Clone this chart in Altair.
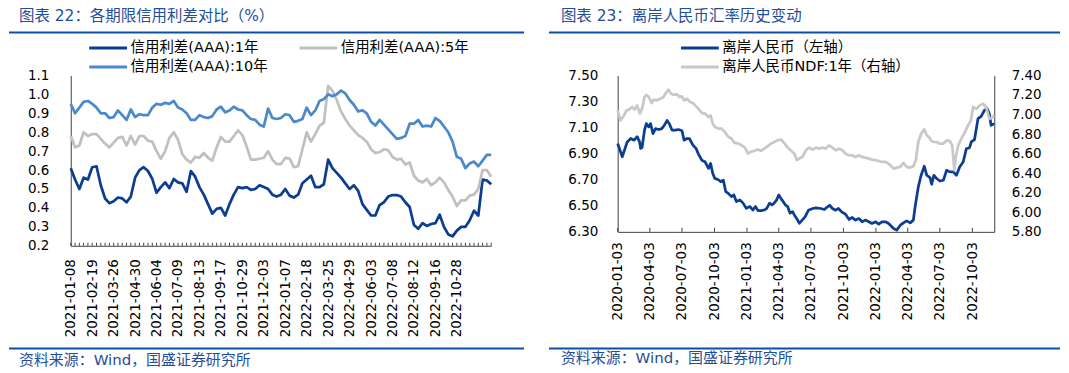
import altair as alt
import pandas as pd

FONT = "DejaVu Sans, Noto Sans CJK SC"
TXT_BLUE = "#1F4E9A"
RULE_BLUE = "#0B4EA2"
AXIS_COL = "#404040"

# ---------------- left panel data ----------------
LEFT_DATES = [
    "2021-01-08", "2021-01-15", "2021-01-22", "2021-01-29", "2021-02-05", "2021-02-19", "2021-02-26",
    "2021-03-05", "2021-03-12", "2021-03-19", "2021-03-26", "2021-04-02", "2021-04-09", "2021-04-16",
    "2021-04-23", "2021-04-30", "2021-05-07", "2021-05-14", "2021-05-21", "2021-05-28", "2021-06-04",
    "2021-06-11", "2021-06-18", "2021-06-25", "2021-07-02", "2021-07-09", "2021-07-16", "2021-07-23",
    "2021-07-30", "2021-08-06", "2021-08-13", "2021-08-20", "2021-08-27", "2021-09-03", "2021-09-10",
    "2021-09-17", "2021-09-24", "2021-10-08", "2021-10-15", "2021-10-22", "2021-10-29", "2021-11-05",
    "2021-11-12", "2021-11-19", "2021-11-26", "2021-12-03", "2021-12-10", "2021-12-17", "2021-12-24",
    "2021-12-31", "2022-01-07", "2022-01-14", "2022-01-21", "2022-01-28", "2022-02-11", "2022-02-18",
    "2022-02-25", "2022-03-04", "2022-03-11", "2022-03-18", "2022-03-25", "2022-04-01", "2022-04-08",
    "2022-04-15", "2022-04-22", "2022-04-29", "2022-05-06", "2022-05-13", "2022-05-20", "2022-05-27",
    "2022-06-03", "2022-06-10", "2022-06-17", "2022-06-24", "2022-07-01", "2022-07-08", "2022-07-15",
    "2022-07-22", "2022-07-29", "2022-08-05", "2022-08-12", "2022-08-19", "2022-08-26", "2022-09-02",
    "2022-09-09", "2022-09-16", "2022-09-23", "2022-09-30", "2022-10-14", "2022-10-21", "2022-10-28",
    "2022-11-04", "2022-11-11", "2022-11-18", "2022-11-25", "2022-12-02", "2022-12-09", "2022-12-16",
    "2022-12-23",
]
SPREAD_1Y = [
    0.61, 0.55, 0.50, 0.56, 0.55, 0.615, 0.62, 0.52, 0.45, 0.425,
    0.435, 0.455, 0.45, 0.43, 0.46, 0.56, 0.60, 0.615, 0.595, 0.553,
    0.48, 0.51, 0.535, 0.505, 0.553, 0.535, 0.53, 0.485, 0.595, 0.565,
    0.51, 0.47, 0.42, 0.37, 0.395, 0.40, 0.36, 0.42, 0.47, 0.51,
    0.505, 0.51, 0.495, 0.50, 0.52, 0.51, 0.50, 0.47, 0.46, 0.47,
    0.50, 0.465, 0.455, 0.47, 0.53, 0.55, 0.57, 0.51, 0.51, 0.525,
    0.655, 0.61, 0.585, 0.56, 0.53, 0.50, 0.52, 0.49, 0.42, 0.39,
    0.36, 0.36, 0.415, 0.43, 0.46, 0.468, 0.468, 0.46, 0.43, 0.405,
    0.31, 0.29, 0.32, 0.305, 0.315, 0.32, 0.364, 0.30, 0.26, 0.25,
    0.28, 0.30, 0.30, 0.335, 0.385, 0.36, 0.55, 0.545, 0.525,
]
SPREAD_5Y = [
    0.78, 0.72, 0.73, 0.80, 0.78, 0.79, 0.79, 0.765, 0.74, 0.72,
    0.745, 0.77, 0.775, 0.73, 0.78, 0.735, 0.78, 0.78, 0.755, 0.75,
    0.70, 0.66, 0.70, 0.77, 0.80, 0.76, 0.685, 0.655, 0.64, 0.67,
    0.665, 0.69, 0.665, 0.65, 0.72, 0.775, 0.75, 0.75, 0.78, 0.81,
    0.785, 0.725, 0.655, 0.655, 0.66, 0.665, 0.70, 0.655, 0.632, 0.632,
    0.664, 0.66, 0.615, 0.62, 0.71, 0.80, 0.75, 0.79, 0.835, 0.85,
    1.045, 1.02, 0.97, 0.91, 0.87, 0.835, 0.81, 0.785, 0.77, 0.75,
    0.71, 0.69, 0.695, 0.71, 0.705, 0.67, 0.655, 0.66, 0.63, 0.64,
    0.57, 0.545, 0.535, 0.553, 0.52, 0.535, 0.56, 0.535, 0.495, 0.46,
    0.41, 0.44, 0.44, 0.465, 0.47, 0.50, 0.60, 0.60, 0.565,
]
SPREAD_10Y = [
    0.95, 0.90, 0.93, 0.96, 0.965, 0.95, 0.93, 0.90, 0.90, 0.875,
    0.88, 0.915, 0.89, 0.865, 0.92, 0.88, 0.895, 0.89, 0.89, 0.93,
    0.95, 0.945, 0.955, 0.95, 0.965, 0.93, 0.92, 0.90, 0.865, 0.865,
    0.89, 0.88, 0.875, 0.885, 0.92, 0.935, 0.905, 0.915, 0.935, 0.92,
    0.915, 0.89, 0.87, 0.865, 0.84, 0.83, 0.925, 0.875, 0.87, 0.875,
    0.895, 0.89, 0.855, 0.86, 0.87, 0.93, 0.89, 0.915, 0.965, 0.975,
    1.0, 0.99, 1.0, 1.02, 1.005, 0.97, 0.945, 0.91, 0.915, 0.90,
    0.855, 0.835, 0.865, 0.84, 0.815, 0.79, 0.765, 0.77, 0.78, 0.845,
    0.845, 0.865, 0.83, 0.835, 0.83, 0.875, 0.86, 0.83, 0.80, 0.75,
    0.67, 0.66, 0.61, 0.635, 0.645, 0.62, 0.65, 0.68, 0.68,
]
LEFT_LABELS = [
    "2021-01-08", "2021-02-19", "2021-03-26", "2021-04-30", "2021-06-04", "2021-07-09", "2021-08-13",
    "2021-09-17", "2021-10-29", "2021-12-03", "2022-01-07", "2022-02-18", "2022-03-25", "2022-04-29",
    "2022-06-03", "2022-07-08", "2022-08-12", "2022-09-16", "2022-10-28",
]
LEFT_YTICKS = [0.2, 0.3, 0.4, 0.5, 0.6, 0.7, 0.8, 0.9, 1.0, 1.1]
LEFT_SERIES = ["信用利差(AAA):1年", "信用利差(AAA):5年", "信用利差(AAA):10年"]
LEFT_COLORS = ["#0B3D91", "#C0C0C0", "#4C88CC"]

# ---------------- right panel data ----------------
CNH_DATES = [
    "2020-01-03", "2020-01-16", "2020-01-30", "2020-02-09", "2020-02-18", "2020-02-27", "2020-03-05",
    "2020-03-08", "2020-03-12", "2020-03-19", "2020-03-24", "2020-03-31", "2020-04-05", "2020-04-12",
    "2020-04-19", "2020-04-28", "2020-05-07", "2020-05-14", "2020-05-22", "2020-05-28", "2020-06-05",
    "2020-06-14", "2020-06-23", "2020-07-03", "2020-07-09", "2020-07-17", "2020-07-24", "2020-08-03",
    "2020-08-12", "2020-08-18", "2020-08-28", "2020-09-06", "2020-09-16", "2020-09-22", "2020-09-28",
    "2020-10-04", "2020-10-14", "2020-10-21", "2020-10-28", "2020-11-04", "2020-11-11", "2020-11-20",
    "2020-11-27", "2020-12-04", "2020-12-14", "2020-12-23", "2021-01-01", "2021-01-11", "2021-01-20",
    "2021-01-27", "2021-02-03", "2021-02-12", "2021-02-22", "2021-02-28", "2021-03-08", "2021-03-15",
    "2021-03-22", "2021-03-28", "2021-04-03", "2021-04-12", "2021-04-22", "2021-04-28", "2021-05-05",
    "2021-05-12", "2021-05-17", "2021-05-26", "2021-05-31", "2021-06-09", "2021-06-17", "2021-06-26",
    "2021-07-08", "2021-07-17", "2021-07-31", "2021-08-10", "2021-08-19", "2021-08-25", "2021-09-02",
    "2021-09-11", "2021-09-19", "2021-09-28", "2021-10-09", "2021-10-19", "2021-10-28", "2021-11-06",
    "2021-11-16", "2021-11-25", "2021-12-04", "2021-12-14", "2021-12-23", "2022-01-02", "2022-01-11",
    "2022-01-20", "2022-01-30", "2022-02-08", "2022-02-22", "2022-03-03", "2022-03-13", "2022-03-22",
    "2022-03-31", "2022-04-10", "2022-04-19", "2022-04-24", "2022-05-03", "2022-05-11", "2022-05-20",
    "2022-05-27", "2022-06-05", "2022-06-10", "2022-06-16", "2022-06-24", "2022-07-03", "2022-07-13",
    "2022-07-22", "2022-07-31", "2022-08-10", "2022-08-19", "2022-08-28", "2022-09-07", "2022-09-16",
    "2022-09-25", "2022-09-30", "2022-10-09", "2022-10-19", "2022-10-28", "2022-11-06", "2022-11-14",
    "2022-11-20", "2022-11-25", "2022-12-04",
]
CNH = [
    6.978, 6.876, 6.99, 7.016, 7.003, 7.03, 6.99, 6.94, 6.947, 7.08, 7.13, 7.105, 7.13, 7.054,
    7.092, 7.085, 7.092, 7.118, 7.155, 7.13, 7.08, 7.08, 7.085, 7.075, 7.003, 7.016, 7.016, 6.965,
    6.94, 6.90, 6.85, 6.838, 6.787, 6.825, 6.75, 6.71, 6.70, 6.685, 6.697, 6.608, 6.595, 6.57,
    6.583, 6.532, 6.545, 6.52, 6.48, 6.494, 6.468, 6.494, 6.463, 6.463, 6.468, 6.48, 6.52, 6.506,
    6.524, 6.545, 6.583, 6.545, 6.506, 6.494, 6.443, 6.455, 6.43, 6.392, 6.366, 6.392, 6.417, 6.466,
    6.479, 6.484, 6.479, 6.471, 6.492, 6.504, 6.479, 6.466, 6.479, 6.453, 6.435, 6.395, 6.41, 6.39,
    6.402, 6.377, 6.39, 6.377, 6.364, 6.377, 6.359, 6.377, 6.377, 6.364, 6.326, 6.313, 6.351, 6.369,
    6.384, 6.369, 6.39, 6.492, 6.645, 6.734, 6.803, 6.734, 6.716, 6.665, 6.734, 6.709, 6.69, 6.696,
    6.772, 6.76, 6.76, 6.734, 6.798, 6.836, 6.938, 6.946, 6.99, 7.007, 7.168, 7.186, 7.232, 7.245,
    7.206, 7.117, 7.13,
]
NDF_DATES = [
    "2020-01-03", "2020-01-11", "2020-01-21", "2020-01-28", "2020-02-04", "2020-02-13", "2020-02-20",
    "2020-02-27", "2020-03-06", "2020-03-12", "2020-03-19", "2020-03-24", "2020-03-31", "2020-04-08",
    "2020-04-14", "2020-04-23", "2020-05-03", "2020-05-12", "2020-05-20", "2020-05-26", "2020-06-02",
    "2020-06-09", "2020-06-19", "2020-06-26", "2020-07-03", "2020-07-09", "2020-07-17", "2020-07-26",
    "2020-08-03", "2020-08-09", "2020-08-18", "2020-08-28", "2020-09-06", "2020-09-16", "2020-09-22",
    "2020-09-28", "2020-10-04", "2020-10-14", "2020-10-23", "2020-11-01", "2020-11-11", "2020-11-20",
    "2020-11-29", "2020-12-09", "2020-12-18", "2020-12-28", "2021-01-06", "2021-01-15", "2021-01-25",
    "2021-02-03", "2021-02-12", "2021-02-22", "2021-03-03", "2021-03-12", "2021-03-22", "2021-03-31",
    "2021-04-10", "2021-04-19", "2021-04-28", "2021-05-08", "2021-05-17", "2021-05-24", "2021-05-31",
    "2021-06-09", "2021-06-19", "2021-06-28", "2021-07-08", "2021-07-17", "2021-07-26", "2021-08-05",
    "2021-08-14", "2021-08-23", "2021-09-02", "2021-09-11", "2021-09-20", "2021-09-30", "2021-10-09",
    "2021-10-19", "2021-10-28", "2021-11-06", "2021-11-16", "2021-11-25", "2021-12-04", "2021-12-14",
    "2021-12-23", "2022-01-02", "2022-01-11", "2022-01-20", "2022-01-30", "2022-02-08", "2022-02-22",
    "2022-03-03", "2022-03-13", "2022-03-22", "2022-03-31", "2022-04-10", "2022-04-19", "2022-04-26",
    "2022-05-03", "2022-05-11", "2022-05-20", "2022-05-27", "2022-06-02", "2022-06-08", "2022-06-14",
    "2022-06-24", "2022-07-03", "2022-07-13", "2022-07-22", "2022-07-31", "2022-08-07", "2022-08-13",
    "2022-08-17", "2022-08-24", "2022-09-02", "2022-09-12", "2022-09-21", "2022-09-29", "2022-10-05",
    "2022-10-15", "2022-10-24", "2022-11-02", "2022-11-11", "2022-11-20", "2022-11-27", "2022-12-04",
]
NDF = [
    7.043, 6.94, 6.99, 7.043, 7.05, 7.077, 7.05, 7.094, 7.01, 7.06, 7.18, 7.20, 7.18, 7.118,
    7.152, 7.145, 7.162, 7.18, 7.23, 7.254, 7.213, 7.203, 7.206, 7.18, 7.186, 7.145, 7.162, 7.128,
    7.118, 7.094, 7.06, 7.016, 7.01, 6.975, 6.99, 6.907, 6.873, 6.857, 6.857, 6.823, 6.772, 6.755,
    6.71, 6.704, 6.687, 6.663, 6.60, 6.62, 6.63, 6.643, 6.63, 6.653, 6.677, 6.704, 6.72, 6.737,
    6.744, 6.704, 6.663, 6.63, 6.60, 6.534, 6.55, 6.567, 6.635, 6.661, 6.64, 6.661, 6.651, 6.661,
    6.651, 6.685, 6.661, 6.634, 6.651, 6.634, 6.60, 6.583, 6.583, 6.566, 6.583, 6.566, 6.559, 6.549,
    6.539, 6.532, 6.525, 6.515, 6.515, 6.498, 6.447, 6.457, 6.464, 6.505, 6.464, 6.457, 6.471, 6.532,
    6.719, 6.804, 6.849, 6.787, 6.77, 6.736, 6.719, 6.719, 6.702, 6.702, 6.736, 6.729, 6.685, 6.43,
    6.566, 6.685, 6.753, 6.821, 6.889, 6.94, 7.077, 7.06, 7.094, 7.111, 7.077, 6.957, 6.968, 6.992,
]
RIGHT_LABELS = [
    "2020-01-03", "2020-04-03", "2020-07-03", "2020-10-03", "2021-01-03", "2021-04-03",
    "2021-07-03", "2021-10-03", "2022-01-03", "2022-04-03", "2022-07-03", "2022-10-03",
]
RIGHT_YTICKS_L = [6.3, 6.5, 6.7, 6.9, 7.1, 7.3, 7.5]
RIGHT_YTICKS_R = [5.8, 6.0, 6.2, 6.4, 6.6, 6.8, 7.0, 7.2, 7.4]
RIGHT_SERIES = ["离岸人民币（左轴）", "离岸人民币NDF:1年（右轴）"]
RIGHT_COLORS = ["#0B3D91", "#C8C8C8"]

TITLE_L = "图表 22：各期限信用利差对比（%）"
TITLE_R = "图表 23：离岸人民币汇率历史变动"
SOURCE = "资料来源：Wind，国盛证券研究所"

LW, LH = 422, 171
RW, RH = 378, 157


def decorations(title, title_x, rule_x1, rule_x2, src_x, src_y):
    one = pd.DataFrame({"t": [title]})
    src = pd.DataFrame({"t": [SOURCE]})
    dummy = pd.DataFrame({"k": [0]})
    t = alt.Chart(one).mark_text(align="left", baseline="top", font=FONT, fontSize=15.5,
                                 color=TXT_BLUE).encode(text="t:N", x=alt.value(title_x), y=alt.value(-67))
    r1 = alt.Chart(dummy).mark_rule(color=RULE_BLUE, strokeWidth=2).encode(
        x=alt.value(rule_x1), x2=alt.value(rule_x2), y=alt.value(-43))
    r2 = alt.Chart(dummy).mark_rule(color=RULE_BLUE, strokeWidth=2).encode(
        x=alt.value(rule_x1), x2=alt.value(rule_x2), y=alt.value(274))
    s = alt.Chart(src).mark_text(align="left", baseline="middle", font=FONT, fontSize=15,
                                 color=TXT_BLUE).encode(text="t:N", x=alt.value(src_x), y=alt.value(src_y))
    return [t, r1, r2, s]


def legend(x, cols, col_pad):
    return alt.Legend(orient="none", legendX=x, legendY=-37, columns=cols, direction="horizontal",
                      columnPadding=col_pad, rowPadding=0, symbolType="stroke", symbolSize=1444,
                      symbolStrokeWidth=3, labelFont=FONT, labelFontSize=14.5, labelOffset=2,
                      clipHeight=19, title=None, padding=0, labelColor="#000000", labelLimit=400)


# ---------------- left chart ----------------
left_df = pd.DataFrame({
    "date": LEFT_DATES * 3,
    "series": [LEFT_SERIES[0]] * len(LEFT_DATES) + [LEFT_SERIES[1]] * len(LEFT_DATES) + [LEFT_SERIES[2]] * len(LEFT_DATES),
    "value": SPREAD_1Y + SPREAD_5Y + SPREAD_10Y,
})
left_ticks_df = pd.DataFrame({"date": LEFT_DATES})

xl = alt.X("date:O", scale=alt.Scale(type="point", padding=0),
           axis=alt.Axis(values=LEFT_LABELS, labelAngle=270, ticks=False, labelPadding=13,
                         title=None, labelOverlap=False))

left_lines = alt.Chart(left_df).mark_line(strokeWidth=2.75, strokeJoin="round").encode(
    x=xl,
    y=alt.Y("value:Q", scale=alt.Scale(domain=[0.2, 1.1], nice=False, zero=False),
            axis=alt.Axis(values=LEFT_YTICKS, format=".1f", ticks=False, labelPadding=22, title=None)),
    color=alt.Color("series:N", scale=alt.Scale(domain=LEFT_SERIES, range=LEFT_COLORS),
                    legend=legend(17, 2, 30)),
)
left_ticks = alt.Chart(left_ticks_df).mark_rule(color=AXIS_COL, strokeWidth=1).encode(
    x=xl, y=alt.value(LH - 3), y2=alt.value(LH))

left = alt.layer(*decorations(TITLE_L, -52, -62, 455, -52, 286), left_lines, left_ticks).properties(
    width=LW, height=LH)

# ---------------- right chart ----------------
cnh_df = pd.DataFrame({"date": CNH_DATES, "value": CNH, "series": RIGHT_SERIES[0]})
ndf_df = pd.DataFrame({"date": NDF_DATES, "value": NDF, "series": RIGHT_SERIES[1]})
rticks_df = pd.DataFrame({"date": RIGHT_LABELS})
label_ms = [int(pd.Timestamp(d, tz="UTC").value // 10**6) for d in RIGHT_LABELS]

xr = alt.X("date:T", scale=alt.Scale(type="utc", nice=False),
           axis=alt.Axis(values=label_ms, labelExpr="utcFormat(datum.value, '%Y-%m-%d')",
                         labelAngle=270, ticks=False, labelPadding=10, title=None,
                         labelOverlap=False, labelFlush=False))
color_r = alt.Color("series:N", scale=alt.Scale(domain=RIGHT_SERIES, range=RIGHT_COLORS),
                    legend=legend(62, 1, 0))

cnh_line = alt.Chart(cnh_df).mark_line(strokeWidth=2.75, strokeJoin="round").encode(
    x=xr,
    y=alt.Y("value:Q", scale=alt.Scale(domain=[6.3, 7.5], nice=False, zero=False),
            axis=alt.Axis(orient="left", values=RIGHT_YTICKS_L, format=".2f", ticks=False,
                          labelPadding=20, title=None)),
    color=color_r,
)
ndf_line = alt.Chart(ndf_df).mark_line(strokeWidth=2.75, strokeJoin="round").encode(
    x=xr,
    y=alt.Y("value:Q", scale=alt.Scale(domain=[5.8, 7.4], nice=False, zero=False),
            axis=alt.Axis(orient="right", values=RIGHT_YTICKS_R, format=".2f", ticks=False,
                          labelPadding=17, title=None)),
    color=color_r,
)
right_ticks = alt.Chart(rticks_df).mark_rule(color=AXIS_COL, strokeWidth=1).encode(
    x=xr, y=alt.value(RH - 4), y2=alt.value(RH))

right = alt.layer(*decorations(TITLE_R, -57, -69, 444, -57, 284), cnh_line, ndf_line, right_ticks).resolve_scale(
    y="independent").properties(width=RW, height=RH)

chart = alt.hconcat(left, right, spacing=23).resolve_scale(color="independent").properties(
    padding=0).configure_view(stroke=None).configure_axis(
    labelFont=FONT, labelFontSize=13.5, labelColor="#000000", domainColor=AXIS_COL, domainWidth=1,
    grid=False)

chart.save("out.html", embed_options={"renderer": "svg", "actions": False})
